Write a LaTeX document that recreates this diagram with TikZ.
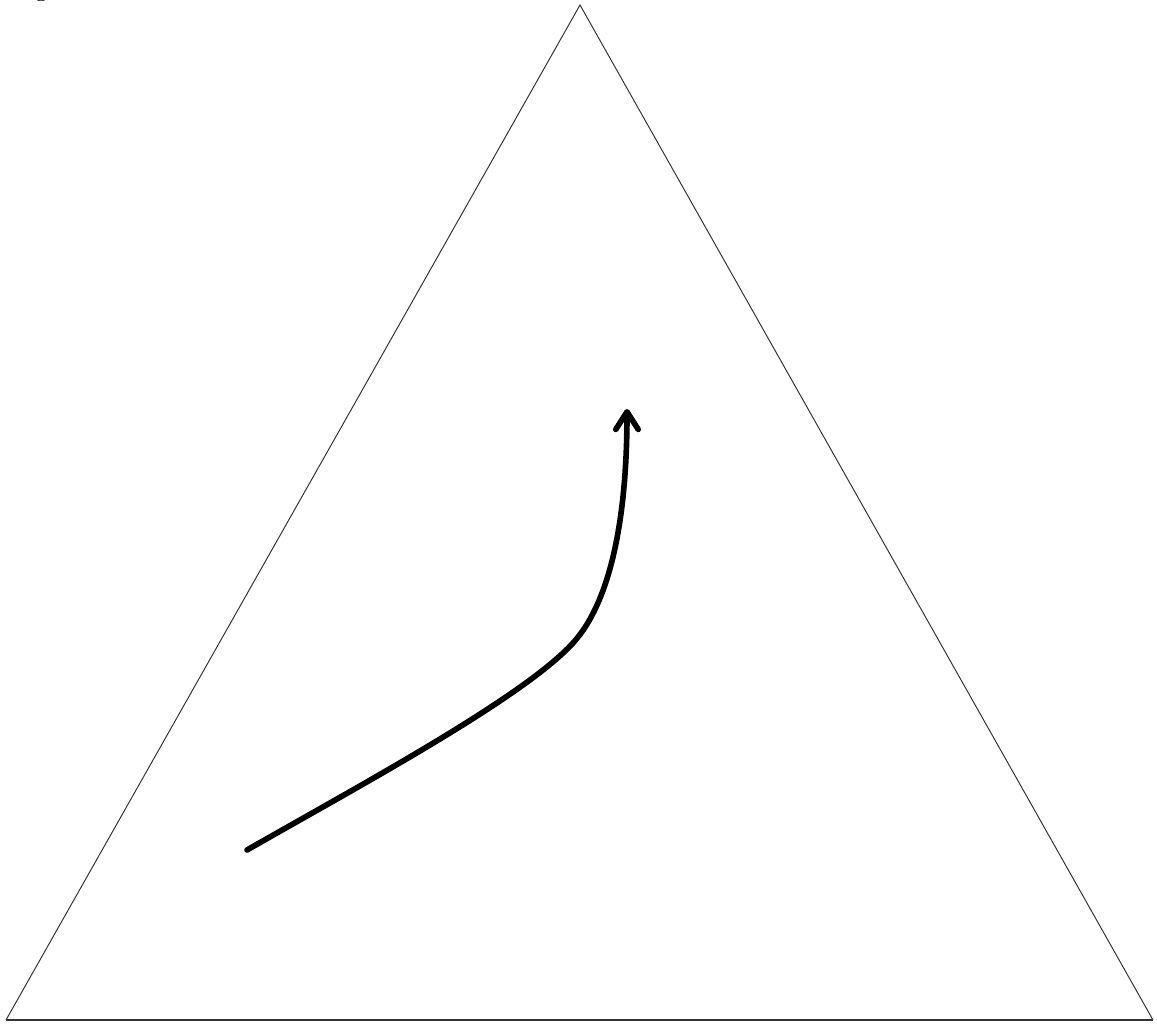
\documentclass[tikz,border=0pt]{standalone}
\usepackage{tikz}
\usetikzlibrary{arrows.meta,calc,positioning}
\definecolor{EdgeInk}{HTML}{333333}
\definecolor{PathInk}{HTML}{000000}

\begin{document}
\begin{tikzpicture}[x=0.025cm,y=-0.025cm,
    edge/.style={draw=EdgeInk,line width=0.7pt,line join=miter},
    trajectory/.style={draw=PathInk,line width=4pt,line cap=round,
      -{Straight Barb[length=4.4mm,width=5.6mm,line cap=round,line join=round]}}]
  \useasboundingbox (0,0) rectangle (1157,1025);
  % corners of the simplex
  \coordinate (apex) at (580,5);
  \coordinate (left) at (6,1020);
  \coordinate (right) at (1153,1020);
  \draw[edge] (left) -- (apex) -- (right);
  \draw[edge,line width=1.1pt] (left) -- (right);
  % cut-off label at the top
  \node[anchor=base,inner sep=0pt,font=\bfseries\Large] (tag) at (41,-2) {g};
  % path through the triangle
  \coordinate (start) at (247,850);
  \coordinate (bend) at (573,643);
  \coordinate (tip) at (627,409);
  \draw[trajectory] (start) .. controls (357,787) and (523,698) .. (bend)
    .. controls (613,599) and (627,510) .. (tip);
\end{tikzpicture}
\end{document}
